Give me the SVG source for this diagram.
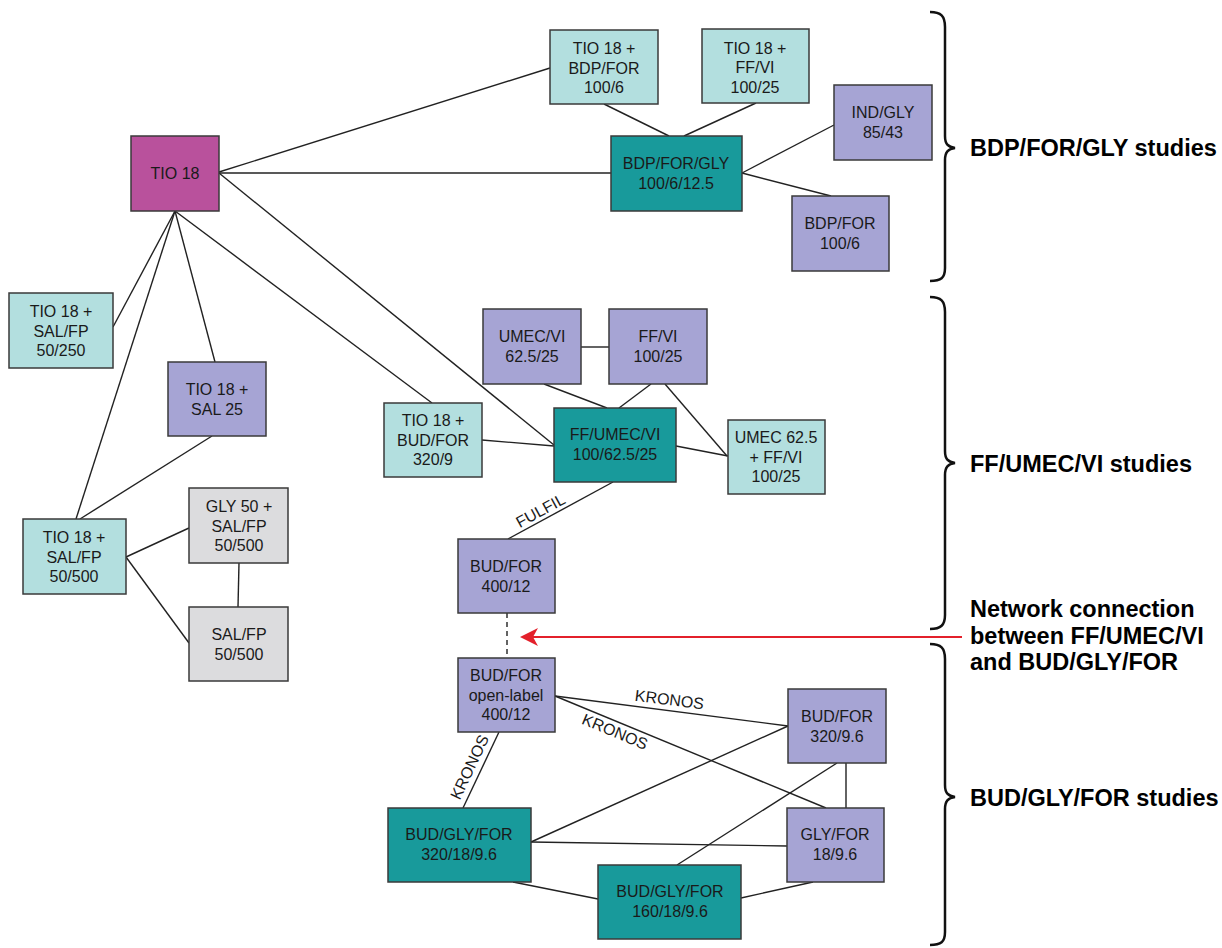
<svg xmlns="http://www.w3.org/2000/svg" width="1222" height="948" viewBox="0 0 1222 948">
<defs>
<style>
.n rect{stroke:#3a3a3a;stroke-width:1.5}
.lt{fill:#b3dfdf}.pu{fill:#a6a4d4}.dk{fill:#189a9b}.gy{fill:#dcdcde}.mg{fill:#b9519c}
text{font-family:"Liberation Sans",Arial,Helvetica,sans-serif;fill:#1a1a1a}
.n text{font-size:16px;text-anchor:middle}
.c line{stroke:#222;stroke-width:1.4}
.lbl{font-size:16px;text-anchor:middle}
.br{fill:none;stroke:#111;stroke-width:2.5}
.side{font-size:23.5px;font-weight:bold;fill:#000}
</style>
</defs>
<rect width="1222" height="948" fill="#fff"/>

<g id="connectors" class="c">
<line x1="219" y1="172" x2="550" y2="68"/>
<line x1="219" y1="173" x2="611" y2="173"/>
<line x1="604" y1="104" x2="669" y2="136"/>
<line x1="756" y1="103" x2="684" y2="136"/>
<line x1="742" y1="173" x2="834" y2="125"/>
<line x1="742" y1="173" x2="831" y2="196"/>
<line x1="175" y1="211" x2="113" y2="327"/>
<line x1="175" y1="211" x2="76" y2="519"/>
<line x1="175" y1="211" x2="215" y2="362"/>
<line x1="175" y1="211" x2="432" y2="403"/>
<line x1="219" y1="173" x2="554" y2="445"/>
<line x1="212" y1="436" x2="80" y2="519"/>
<line x1="126" y1="557" x2="189" y2="528"/>
<line x1="126" y1="557" x2="189" y2="643"/>
<line x1="239" y1="563" x2="238" y2="607"/>
<line x1="581" y1="347" x2="609" y2="347"/>
<line x1="544" y1="384" x2="607" y2="408"/>
<line x1="651" y1="384" x2="619" y2="408"/>
<line x1="665" y1="384" x2="727" y2="456"/>
<line x1="482" y1="440" x2="554" y2="446"/>
<line x1="676" y1="446" x2="728" y2="456"/>
<line x1="613" y1="482" x2="508" y2="539"/>
<line x1="507" y1="613" x2="507" y2="658" stroke-dasharray="5,4"/>
<line x1="555" y1="696" x2="788" y2="726"/>
<line x1="555" y1="696" x2="826" y2="808"/>
<line x1="499" y1="732" x2="463" y2="808"/>
<line x1="531" y1="842" x2="788" y2="726"/>
<line x1="531" y1="842" x2="787" y2="846"/>
<line x1="513" y1="882" x2="598" y2="899"/>
<line x1="837" y1="763" x2="677" y2="865"/>
<line x1="846" y1="763" x2="846" y2="808"/>
<line x1="741" y1="898" x2="813" y2="882"/>
<text class="lbl" transform="translate(545,519) rotate(-28.5)" y="-4">FULFIL</text>
<text class="lbl" transform="translate(668,711) rotate(7.3)" y="-6">KRONOS</text>
<text class="lbl" transform="translate(619,722) rotate(22.5)" y="16">KRONOS</text>
<text class="lbl" transform="translate(480,772) rotate(-64.7)" y="-6">KRONOS</text>
<line x1="962" y1="637" x2="532" y2="637" style="stroke:#e3202b;stroke-width:2.2"/>
<path d="M520,637 L538,628 L533,637 L538,646 Z" fill="#e3202b"/>
</g>

<g id="n-tio18" class="n"><rect class="mg" x="131" y="136" width="88" height="75"/><text x="175" y="179">TIO 18</text></g>
<g id="n-tio-bdpfor" class="n"><rect class="lt" x="550" y="30" width="108" height="74"/><text x="604" y="54">TIO 18 +</text><text x="604" y="74">BDP/FOR</text><text x="604" y="93">100/6</text></g>
<g id="n-tio-ffvi" class="n"><rect class="lt" x="702" y="29" width="107" height="74"/><text x="755" y="54">TIO 18 +</text><text x="755" y="73">FF/VI</text><text x="755" y="93">100/25</text></g>
<g id="n-bdpforgly" class="n"><rect class="dk" x="611" y="136" width="131" height="75"/><text x="676" y="169">BDP/FOR/GLY</text><text x="676" y="189">100/6/12.5</text></g>
<g id="n-indgly" class="n"><rect class="pu" x="834" y="85" width="98" height="75"/><text x="883" y="118">IND/GLY</text><text x="883" y="138">85/43</text></g>
<g id="n-bdpfor" class="n"><rect class="pu" x="792" y="196" width="97" height="75"/><text x="840" y="229">BDP/FOR</text><text x="840" y="249">100/6</text></g>
<g id="n-tio-salfp250" class="n"><rect class="lt" x="9" y="293" width="104" height="75"/><text x="61" y="317">TIO 18 +</text><text x="61" y="337">SAL/FP</text><text x="61" y="356">50/250</text></g>
<g id="n-tio-sal25" class="n"><rect class="pu" x="168" y="362" width="98" height="74"/><text x="217" y="395">TIO 18 +</text><text x="217" y="415">SAL 25</text></g>
<g id="n-tio-salfp500" class="n"><rect class="lt" x="23" y="519" width="103" height="75"/><text x="74" y="543">TIO 18 +</text><text x="74" y="563">SAL/FP</text><text x="74" y="582">50/500</text></g>
<g id="n-gly-salfp" class="n"><rect class="gy" x="189" y="488" width="99" height="75"/><text x="239" y="512">GLY 50 +</text><text x="239" y="532">SAL/FP</text><text x="239" y="551">50/500</text></g>
<g id="n-salfp" class="n"><rect class="gy" x="189" y="607" width="99" height="74"/><text x="239" y="640">SAL/FP</text><text x="239" y="660">50/500</text></g>
<g id="n-umecvi" class="n"><rect class="pu" x="483" y="309" width="98" height="75"/><text x="532" y="342">UMEC/VI</text><text x="532" y="362">62.5/25</text></g>
<g id="n-ffvi" class="n"><rect class="pu" x="609" y="309" width="98" height="75"/><text x="658" y="342">FF/VI</text><text x="658" y="362">100/25</text></g>
<g id="n-tio-budfor" class="n"><rect class="lt" x="384" y="403" width="98" height="74"/><text x="433" y="426">TIO 18 +</text><text x="433" y="446">BUD/FOR</text><text x="433" y="465">320/9</text></g>
<g id="n-ffumecvi" class="n"><rect class="dk" x="554" y="408" width="122" height="74"/><text x="615" y="440">FF/UMEC/VI</text><text x="615" y="460">100/62.5/25</text></g>
<g id="n-umec-ffvi" class="n"><rect class="lt" x="728" y="420" width="97" height="74"/><text x="776" y="443">UMEC 62.5</text><text x="776" y="463">+ FF/VI</text><text x="776" y="482">100/25</text></g>
<g id="n-budfor400" class="n"><rect class="pu" x="458" y="539" width="97" height="74"/><text x="506" y="572">BUD/FOR</text><text x="506" y="592">400/12</text></g>
<g id="n-budfor-ol" class="n"><rect class="pu" x="458" y="658" width="97" height="74"/><text x="506" y="681">BUD/FOR</text><text x="506" y="701">open-label</text><text x="506" y="720">400/12</text></g>
<g id="n-budfor320" class="n"><rect class="pu" x="788" y="689" width="98" height="74"/><text x="837" y="722">BUD/FOR</text><text x="837" y="742">320/9.6</text></g>
<g id="n-budglyfor320" class="n"><rect class="dk" x="388" y="808" width="143" height="74"/><text x="459" y="840">BUD/GLY/FOR</text><text x="459" y="860">320/18/9.6</text></g>
<g id="n-glyfor" class="n"><rect class="pu" x="787" y="808" width="97" height="74"/><text x="835" y="840">GLY/FOR</text><text x="835" y="860">18/9.6</text></g>
<g id="n-budglyfor160" class="n"><rect class="dk" x="598" y="865" width="143" height="74"/><text x="670" y="897">BUD/GLY/FOR</text><text x="670" y="917">160/18/9.6</text></g>

<g id="brackets">
<path class="br" d="M930,12 C941,12 945,16 945,27 L945,136 C945,144 948,147 955,148 C948,149 945,152 945,160 L945,268 C945,278 941,281 930,281"/>
<path class="br" d="M930,297 C941,297 945,301 945,312 L945,451 C945,459 948,462 955,463 C948,464 945,467 945,475 L945,615 C945,625 941,629 930,629"/>
<path class="br" d="M930,644 C941,644 945,648 945,659 L945,785 C945,793 948,796 955,797 C948,798 945,801 945,809 L945,932 C945,942 941,945 930,945"/>
<text class="side" x="970" y="156">BDP/FOR/GLY studies</text>
<text class="side" x="970" y="472">FF/UMEC/VI studies</text>
<text class="side" x="970" y="617">Network connection</text>
<text class="side" x="970" y="643.5">between FF/UMEC/VI</text>
<text class="side" x="970" y="670">and BUD/GLY/FOR</text>
<text class="side" x="970" y="806">BUD/GLY/FOR studies</text>
</g>
</svg>
